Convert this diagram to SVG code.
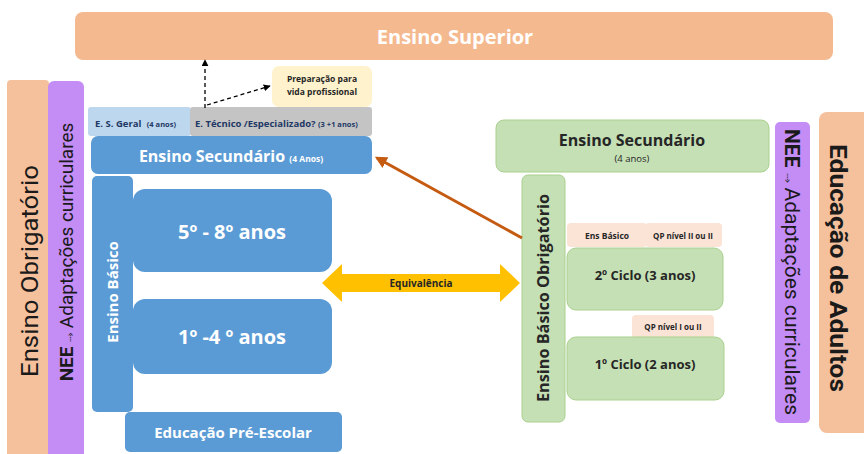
<svg xmlns="http://www.w3.org/2000/svg" width="864" height="454" viewBox="0 0 864 454">
<defs>
<style>
.t{font-family:"Open Sans","Noto Sans","Liberation Sans",sans-serif;font-weight:bold}
.r{font-family:Roboto,"Liberation Sans",sans-serif}
.blue{fill:#5b9bd5}
.green{fill:#c5e0b4;stroke:#a9d18e;stroke-width:1}
.pink{fill:#fbe3d6}
.peach{fill:#f5c09c}
.purple{fill:#c48cf5}
.w{fill:#ffffff}
.d{fill:#262626}
</style>
<marker id="ah" viewBox="0 0 10 10" refX="9" refY="5" markerWidth="7" markerHeight="7" orient="auto-start-reverse" markerUnits="userSpaceOnUse"><path d="M0,0 L10,5 L0,10 z" fill="#000"/></marker>
<marker id="ahb" viewBox="0 0 10 10" refX="8" refY="5" markerWidth="4" markerHeight="4" orient="auto"><path d="M0,0 L10,5 L0,10 z" fill="#c55a11"/></marker>
</defs>
<rect width="864" height="454" fill="#ffffff"/>

<g id="ensino-superior">
<rect x="75" y="12" width="758" height="48" rx="8" fill="#f5b98f"/>
<text class="t w" x="455" y="44" font-size="20" text-anchor="middle">Ensino Superior</text>
</g>

<g id="ensino-obrigatorio">
<rect x="7" y="80" width="42" height="380" rx="4" class="peach"/>
<text class="r" x="38" y="271" font-size="23" fill="#1a1a1a" text-anchor="middle" textLength="212" lengthAdjust="spacingAndGlyphs" transform="rotate(-90 38 271)">Ensino Obrigatório</text>
</g>

<g id="nee-left">
<rect x="48" y="81" width="36" height="380" rx="6" class="purple"/>
<text class="r" x="73" y="252" font-size="19" fill="#1a1a1a" text-anchor="middle" transform="rotate(-90 73 252)"><tspan font-weight="bold">NEE</tspan> <tspan font-size="11" font-family="DejaVu Sans,sans-serif">⤑</tspan> Adaptações curriculares</text>
</g>

<g id="es-geral">
<rect x="88" y="107" width="103" height="29" rx="3" fill="#bdd7ee"/>
<text class="t" x="95" y="127" font-size="9.5" fill="#1f3864">E. S. Geral <tspan font-size="7.5" dx="3">(4 anos)</tspan></text>
</g>

<g id="es-tecnico">
<rect x="190" y="107" width="182" height="29" rx="3" fill="#c4c4c4"/>
<text class="t" x="195" y="127" font-size="9.5" fill="#1f3864">E. Técnico /Especializado? <tspan font-size="7.5">(3 +1 anos)</tspan></text>
</g>

<g id="preparacao">
<rect x="272" y="66" width="100" height="41" rx="7" fill="#fff2cc"/>
<text class="t d" x="322" y="82" font-size="8.5" text-anchor="middle">Preparação para</text>
<text class="t d" x="322" y="95" font-size="8.5" text-anchor="middle">vida profissional</text>
</g>

<g id="ensino-secundario-left">
<rect x="91" y="136" width="281" height="38" rx="7" class="blue"/>
<text class="t w" x="231" y="162" font-size="16" text-anchor="middle">Ensino Secundário <tspan font-size="8.5">(4 Anos)</tspan></text>
</g>

<g id="ensino-basico-left">
<rect x="92" y="176" width="41" height="236" rx="5" class="blue"/>
<text class="t w" x="118" y="292" font-size="15" text-anchor="middle" transform="rotate(-90 118 292)">Ensino Básico</text>
</g>

<g id="anos-5-8">
<rect x="133" y="189" width="199" height="83" rx="12" class="blue"/>
<text class="t w" x="232" y="239" font-size="20" text-anchor="middle">5º - 8º anos</text>
</g>

<g id="anos-1-4">
<rect x="133" y="299" width="199" height="75" rx="12" class="blue"/>
<text class="t w" x="232" y="344" font-size="20" text-anchor="middle">1º -4 º anos</text>
</g>

<g id="pre-escolar">
<rect x="125" y="412" width="217" height="40" rx="5" class="blue"/>
<text class="t w" x="233" y="438" font-size="15" text-anchor="middle">Educação Pré-Escolar</text>
</g>

<g id="ensino-secundario-right">
<rect x="496" y="120" width="273" height="52" rx="8" class="green"/>
<text class="t d" x="632" y="146" font-size="16" text-anchor="middle">Ensino Secundário</text>
<text x="632" y="162" font-size="9.5" text-anchor="middle" font-family="Open Sans,sans-serif" fill="#262626">(4 anos)</text>
</g>

<g id="ensino-basico-obrigatorio">
<rect x="522" y="175" width="43" height="247" rx="6" class="green"/>
<text class="t d" x="549" y="298" font-size="16" text-anchor="middle" textLength="208" lengthAdjust="spacingAndGlyphs" transform="rotate(-90 549 298)">Ensino Básico Obrigatório</text>
</g>

<g id="ens-basico-label">
<rect x="567" y="223" width="80" height="24" rx="4" class="pink"/>
<text class="t d" x="607" y="239" font-size="8.5" text-anchor="middle">Ens Básico</text>
</g>

<g id="qp-2">
<rect x="645" y="223" width="77" height="24" rx="4" class="pink"/>
<text class="t d" x="683" y="239" font-size="8" text-anchor="middle">QP nível II ou II</text>
</g>

<g id="ciclo-2">
<rect x="567" y="248" width="156" height="62" rx="9" class="green"/>
<text class="t d" x="645" y="280" font-size="13" text-anchor="middle">2º Ciclo (3 anos)</text>
</g>

<g id="qp-1">
<rect x="632" y="315" width="82" height="23" rx="4" class="pink"/>
<text class="t d" x="673" y="330" font-size="8" text-anchor="middle">QP nível I ou II</text>
</g>

<g id="ciclo-1">
<rect x="567" y="337" width="157" height="63" rx="9" class="green"/>
<text class="t d" x="645" y="369" font-size="13" text-anchor="middle">1º Ciclo (2 anos)</text>
</g>

<g id="nee-right">
<rect x="775" y="122" width="35" height="301" rx="5" class="purple"/>
<text class="r" x="785" y="272" font-size="20" fill="#1a1a1a" text-anchor="middle" textLength="286" lengthAdjust="spacingAndGlyphs" transform="rotate(90 785 272)"><tspan font-weight="bold">NEE</tspan> <tspan font-size="11" font-family="DejaVu Sans,sans-serif">⤑</tspan> Adaptações curriculares</text>
</g>

<g id="educacao-adultos">
<rect x="819" y="112" width="60" height="321" rx="8" class="peach"/>
<text class="r" x="830" y="268" font-size="23" font-weight="bold" fill="#1a1a1a" text-anchor="middle" textLength="248" lengthAdjust="spacingAndGlyphs" transform="rotate(90 830 268)">Educação de Adultos</text>
</g>

<g id="connectors">
<line x1="205" y1="108" x2="205" y2="60" stroke="#000" stroke-width="1.3" stroke-dasharray="4,3" marker-end="url(#ah)"/>
<line x1="207" y1="105" x2="270" y2="86" stroke="#000" stroke-width="1.3" stroke-dasharray="4,3" marker-end="url(#ah)"/>
<line x1="522" y1="238" x2="377" y2="158" stroke="#c55a11" stroke-width="3" marker-end="url(#ahb)"/>
<g id="equivalencia">
<polygon points="322,283 342,264 342,274 500,274 500,264 520,283 500,302 500,292 342,292 342,302" fill="#ffc000"/>
<text class="t d" x="421" y="287" font-size="10" text-anchor="middle">Equivalência</text>
</g>
</g>
</svg>
